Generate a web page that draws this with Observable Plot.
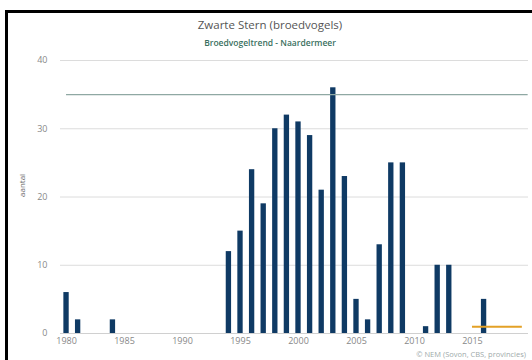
<!DOCTYPE html>
<html>
<head>
<meta charset="utf-8">
<script src="https://cdn.jsdelivr.net/npm/d3@7"></script>
<script src="https://cdn.jsdelivr.net/npm/@observablehq/plot@0.6"></script>
<style>
  html, body { margin: 0; padding: 0; background: #fff; overflow: hidden; }
  #wrap { position: relative; width: 532px; height: 360px; overflow: hidden; font-family: "Open Sans", "DejaVu Sans", sans-serif; }
  #frame { position: absolute; left: 5px; top: 10px; width: 540px; height: 360px; border-left: 3px solid #000; border-top: 3px solid #000; box-sizing: border-box; }
  #title { position: absolute; left: 0; width: 532px; top: 17px; text-align: center; padding-left: 4px; font-size: 11.5px; color: #555; }
  #subtitle { position: absolute; left: 0; width: 532px; top: 37px; text-align: center; padding-left: 4px; font-size: 8.5px; color: #3a7060; font-weight: 600; }
  #chart { position: absolute; left: 0; top: 50px; }
  #caption { position: absolute; right: 6px; top: 350px; font-size: 7.5px; line-height: 9px; color: #a0aaaa; }
</style>
</head>
<body>
<div id="wrap">
  <div id="frame"></div>
  <div id="title">Zwarte Stern (broedvogels)</div>
  <div id="subtitle">Broedvogeltrend - Naardermeer</div>
  <div id="chart"></div>
  <div id="caption">© NEM (Sovon, CBS, provincies)</div>
</div>
<script>
const years  = [1980, 1981, 1984, 1994, 1995, 1996, 1997, 1998, 1999, 2000, 2001, 2002, 2003, 2004, 2005, 2006, 2007, 2008, 2009, 2011, 2012, 2013, 2016];
const counts = [6, 2, 2, 12, 15, 24, 19, 30, 32, 31, 29, 21, 36, 23, 5, 2, 13, 25, 25, 1, 10, 10, 5];
const refLevel = 35;
const refYears = [1980, 2019.8];
const targetLevel = 1;
const targetYears = [2015, 2019.3];
const xTicks = [1980, 1985, 1990, 1995, 2000, 2005, 2010, 2015];
const yTicks = [0, 10, 20, 30, 40];

const data = years.map((y, i) => ({year: y, count: counts[i]}));

const chart = Plot.plot({
  width: 532,
  height: 310,
  marginLeft: 60,
  marginRight: 4,
  marginTop: 10,
  marginBottom: 27,
  style: {fontFamily: "'Open Sans', 'DejaVu Sans', sans-serif", fontSize: "9px", color: "#888", background: "transparent"},
  x: {domain: [1979.48, 2019.83], ticks: xTicks, tickFormat: d => String(d), tickSize: 0, tickPadding: 4, label: null},
  y: {domain: [0, 40], ticks: yTicks, tickSize: 0, tickPadding: 13, label: null},
  marks: [
    Plot.gridY(yTicks, {stroke: "#dcdcdc", strokeOpacity: 1, strokeWidth: 1}),
    Plot.ruleY([0], {stroke: "#d0d0d0"}),
    Plot.rectY(data, {x1: d => d.year - 0.23, x2: d => d.year + 0.23, y: "count", fill: "#0f3a64"}),
    Plot.ruleY([refLevel], {x1: refYears[0], x2: refYears[1], stroke: "#8fa8a3", strokeWidth: 1.3}),
    Plot.ruleY([targetLevel], {x1: targetYears[0], x2: targetYears[1], stroke: "#e3a126", strokeWidth: 2}),
    Plot.axisX({ticks: xTicks, tickFormat: d => String(d), tickSize: 0, tickPadding: 4, fill: "#888", fontSize: 9}),
    Plot.axisY({ticks: yTicks, tickSize: 0, tickPadding: 13, fill: "#888", fontSize: 9}),
    Plot.text(["aantal"], {frameAnchor: "left", dx: -38, rotate: -90, fill: "#666", fontSize: 8})
  ]
});
document.getElementById("chart").appendChild(chart);
</script>
</body>
</html>
